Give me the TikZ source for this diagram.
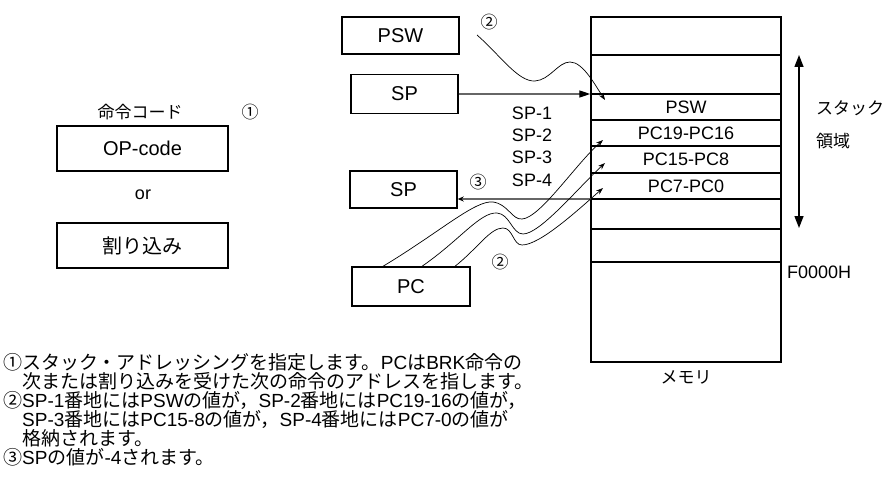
\documentclass[tikz,border=0pt]{standalone}
\usepackage{fontspec}
\setmainfont{Liberation Sans}
\newfontfamily\jp{Noto Sans CJK JP}
\usetikzlibrary{arrows.meta}
\definecolor{linegray}{gray}{0.4}
\newcommand{\la}[1]{{\rmfamily #1}}

\begin{document}
\begin{tikzpicture}[x=1pt,y=-1pt,
    box/.style={draw, line width=1.4pt, inner sep=0pt, font=\fontsize{20}{24}\selectfont},
    lat/.style={inner sep=0pt, font=\fontsize{18}{22}\selectfont},
    jpl/.style={inner sep=0pt, font=\jp\fontsize{17}{20}\selectfont},
    note/.style={inner sep=0pt, anchor=west, font=\jp\fontsize{19}{19}\selectfont},
    wave/.style={line width=0.7pt, -{Stealth[length=7pt,width=5pt]}}]
    \useasboundingbox (0,0) rectangle (888,484);

    % Draw the memory
    \node[draw, line width=1.4pt, minimum width=190pt, minimum height=345pt] (mem) at (686,189.5) {};
    \foreach \y in {55,94,120,146,173,199,229,262}
        \draw[line width=1.3pt] (591,\y) -- (781,\y);
    \node[lat] (rpsw) at (686,107) {PSW};
    \node[lat] (rpch) at (686,133) {PC19-PC16};
    \node[lat] (rpcm) at (686,159.5) {PC15-PC8};
    \node[lat] (rpcl) at (686,186) {PC7-PC0};
    \node[lat, anchor=west] (addr) at (787,272) {F0000H};
    \node[jpl] (memname) at (686,377) {メモリ};

    % Stack area
    \draw[line width=1.4pt, {Triangle[length=12pt,width=9pt]}-{Triangle[length=12pt,width=9pt]}] (799,55) -- (799,228);
    \node[jpl, anchor=west] (area1) at (816,108) {スタック};
    \node[jpl, anchor=west] (area2) at (816,141) {領域};

    % Instruction
    \node[jpl] (opname) at (140,112) {命令コード};
    \node[jpl] (step1) at (250,112) {①};
    \node[box, minimum width=171pt, minimum height=45pt] (op) at (142.5,148.5) {OP-code};
    \node[lat] (or) at (143,195) {or};
    \node[box, minimum width=171pt, minimum height=45pt, font=\jp\fontsize{20}{24}\selectfont] (intr) at (142.5,245.5) {割り込み};

    % Registers
    \node[box, minimum width=117pt, minimum height=37pt] (psw) at (400.5,35.5) {PSW};
    \node[box, minimum width=107pt, minimum height=39pt] (sp) at (404.5,94) {SP};
    \node[box, minimum width=107pt, minimum height=37pt] (spnew) at (403.5,189.5) {SP};
    \node[box, minimum width=118pt, minimum height=39pt] (pc) at (411,286.5) {PC};

    % SP points into the stack
    \draw[linegray, line width=1.3pt, -{Triangle[color=black,length=11pt,width=7pt]}] (sp.east) -- (sp.east -| mem.west);
    \foreach \i/\y in {1/113,2/135,3/157,4/180}
        \node[lat] (off\i) at (532,\y) {SP-\i};

    % New SP
    \coordinate (r7) at (591,199);
    \draw[linegray, line width=1.3pt, -{Stealth[color=black,length=6pt,width=5pt]}] (r7) -- (r7 -| spnew.east);
    \node[jpl] (step3) at (478,182) {③};

    % PSW is pushed
    \coordinate (pswsrc) at (477,35);
    \coordinate (pswdst) at (605,100);
    \draw[wave] (pswsrc) .. controls (500,55) and (518,82) .. (535,81)
        .. controls (550,80) and (558,62) .. (570,62)
        .. controls (583,62) and (595,85) .. (pswdst);
    \node[jpl] (step2a) at (489,22) {②};

    % PC is pushed
    \coordinate (pchdst) at (603,140);
    \coordinate (pcmdst) at (605,163);
    \coordinate (pcldst) at (603,188);
    \draw[wave] ([xshift=-28pt]pc.north) .. controls (440,232) and (475,200) .. (493,202)
        .. controls (508,204) and (512,220) .. (522,219)
        .. controls (540,218) and (575,165) .. (pchdst);
    \draw[wave] ([xshift=11pt]pc.north) .. controls (460,240) and (480,212) .. (497,213)
        .. controls (510,214) and (512,234) .. (523,234)
        .. controls (540,234) and (578,188) .. (pcmdst);
    \draw[wave] ([xshift=44pt]pc.north) .. controls (478,248) and (490,228) .. (503,228)
        .. controls (513,228) and (513,245) .. (522,245)
        .. controls (540,245) and (578,210) .. (pcldst);
    \node[jpl] (step2b) at (500,262) {②};

    % Notes
    \node[note] (note1) at (3,362) {①スタック・アドレッシングを指定します。\la{PC}は\la{BRK}命令の};
    \node[note] (note2) at (22,381) {次または割り込みを受けた次の命令のアドレスを指します。};
    \node[note] (note3) at (3,400) {②\la{SP-1}番地には\la{PSW}の値が，\la{SP-2}番地には\la{PC19-16}の値が，};
    \node[note] (note4) at (22,419) {\la{SP-3}番地には\la{PC15-8}の値が，\la{SP-4}番地には\la{PC7-0}の値が};
    \node[note] (note5) at (22,438) {格納されます。};
    \node[note] (note6) at (3,457) {③\la{SP}の値が\la{-4}されます。};
\end{tikzpicture}
\end{document}
